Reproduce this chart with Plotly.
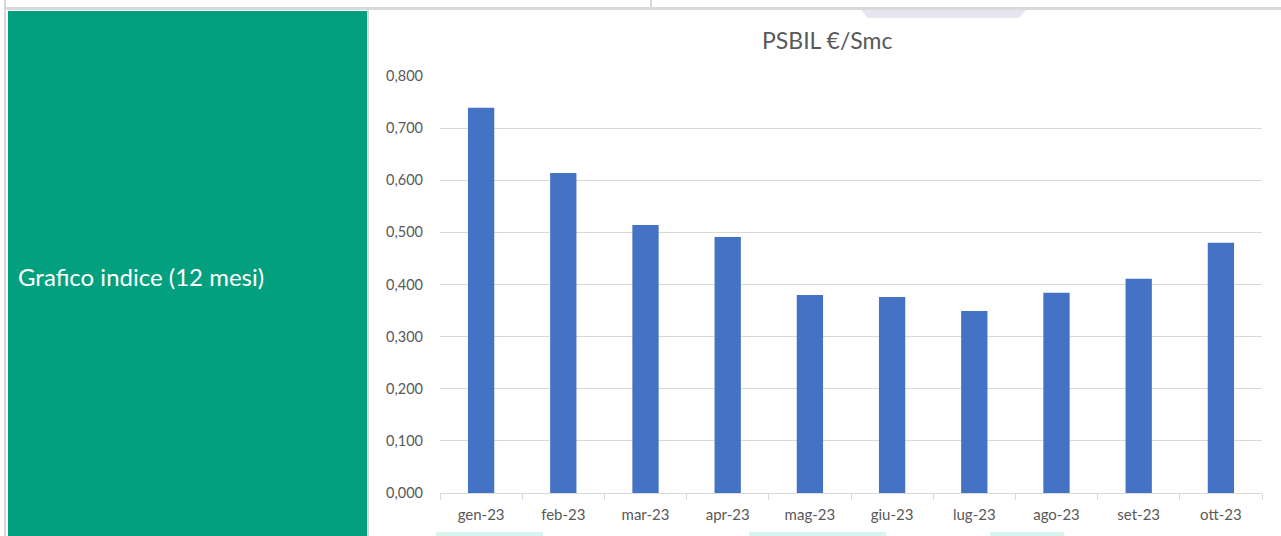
import plotly.graph_objects as go

W, H = 1281, 536

categories = ["gen-23", "feb-23", "mar-23", "apr-23", "mag-23", "giu-23",
              "lug-23", "ago-23", "set-23", "ott-23"]
values = [0.739, 0.614, 0.514, 0.491, 0.380, 0.376, 0.349, 0.384, 0.411, 0.480]
y_ticks = [0.0, 0.1, 0.2, 0.3, 0.4, 0.5, 0.6, 0.7, 0.8]
title_text = "PSBIL €/Smc"
side_label = "Grafico indice (12 mesi)"

FONT = "Lato"
GRAY_TXT = "#595959"
GRID = "#d9d9d9"


def px(x):
    return x / W


def py(y):
    return 1 - y / H


fig = go.Figure()
fig.add_trace(go.Bar(
    x=categories, y=values,
    marker=dict(color="#4472c4", line=dict(color="#4472c4", width=0)),
    hoverinfo="x+y",
))

shapes = []
# green cell
shapes.append(dict(type="rect", xref="paper", yref="paper",
                   x0=px(8), x1=px(367), y0=py(536), y1=py(11),
                   fillcolor="#02a07e", line=dict(width=0), layer="below"))
# table lines
shapes.append(dict(type="rect", xref="paper", yref="paper",
                   x0=px(4), x1=px(1281), y0=py(10), y1=py(7),
                   fillcolor="#d9d9d9", line=dict(width=0), layer="below"))
shapes.append(dict(type="rect", xref="paper", yref="paper",
                   x0=px(4), x1=px(6), y0=py(536), y1=py(0),
                   fillcolor="#d9d9d9", line=dict(width=0), layer="below"))
shapes.append(dict(type="rect", xref="paper", yref="paper",
                   x0=px(650), x1=px(652), y0=py(8), y1=py(0),
                   fillcolor="#d9d9d9", line=dict(width=0), layer="below"))
shapes.append(dict(type="rect", xref="paper", yref="paper",
                   x0=px(367), x1=px(369), y0=py(536), y1=py(10),
                   fillcolor="#d9d9d9", line=dict(width=0), layer="below"))
# faint watermark fragments
shapes.append(dict(type="path", xref="paper", yref="paper",
                   path=f"M {px(861)},{py(10)} L {px(1026)},{py(10)} L {px(1019)},{py(18)} "
                        f"L {px(868)},{py(18)} Z",
                   fillcolor="#e6e6ee", line=dict(width=0), layer="below"))
for x0, x1 in [(436, 543), (749, 886), (990, 1064)]:
    shapes.append(dict(type="rect", xref="paper", yref="paper",
                       x0=px(x0), x1=px(x1), y0=py(536), y1=py(532),
                       fillcolor="#d8f6ef", line=dict(width=0), layer="below"))

annotations = [
    dict(text=title_text, xref="paper", yref="paper", x=px(827), y=py(40),
         xanchor="center", yanchor="middle", showarrow=False,
         font=dict(family=FONT, size=23, color=GRAY_TXT)),
    dict(text=side_label, xref="paper", yref="paper", x=px(16), y=py(276),
         xanchor="left", yanchor="middle", showarrow=False,
         font=dict(family=FONT, size=24, color="white")),
]

fig.update_layout(
    width=W, height=H,
    margin=dict(l=0, r=0, t=0, b=0, pad=0, autoexpand=False),
    paper_bgcolor="white", plot_bgcolor="white",
    separators=",.",
    showlegend=False,
    bargap=0.68,
    shapes=shapes,
    annotations=annotations,
    font=dict(family=FONT, color=GRAY_TXT, size=14),
    xaxis=dict(
        domain=[px(440), px(1262)],
        anchor="y",
        automargin=False,
        showline=True, linecolor=GRID, linewidth=1,
        ticks="outside", tickson="boundaries", ticklen=6, tickcolor=GRID,
        ticklabelstandoff=8,
        showgrid=False, tickfont=dict(family=FONT, size=15, color=GRAY_TXT),
        fixedrange=True,
    ),
    yaxis=dict(
        domain=[py(493), py(76)],
        anchor="x",
        automargin=False,
        range=[0, 0.8],
        tickvals=y_ticks,
        tickformat=".3f",
        showgrid=True, gridcolor=GRID, gridwidth=1,
        zeroline=False, showline=False, ticks="",
        ticklabelstandoff=16,
        tickfont=dict(family=FONT, size=14.5, color=GRAY_TXT),
        fixedrange=True,
    ),
)

fig.write_html("out.html", config={"displayModeBar": False},
               post_script="document.body.style.margin='0px';")
